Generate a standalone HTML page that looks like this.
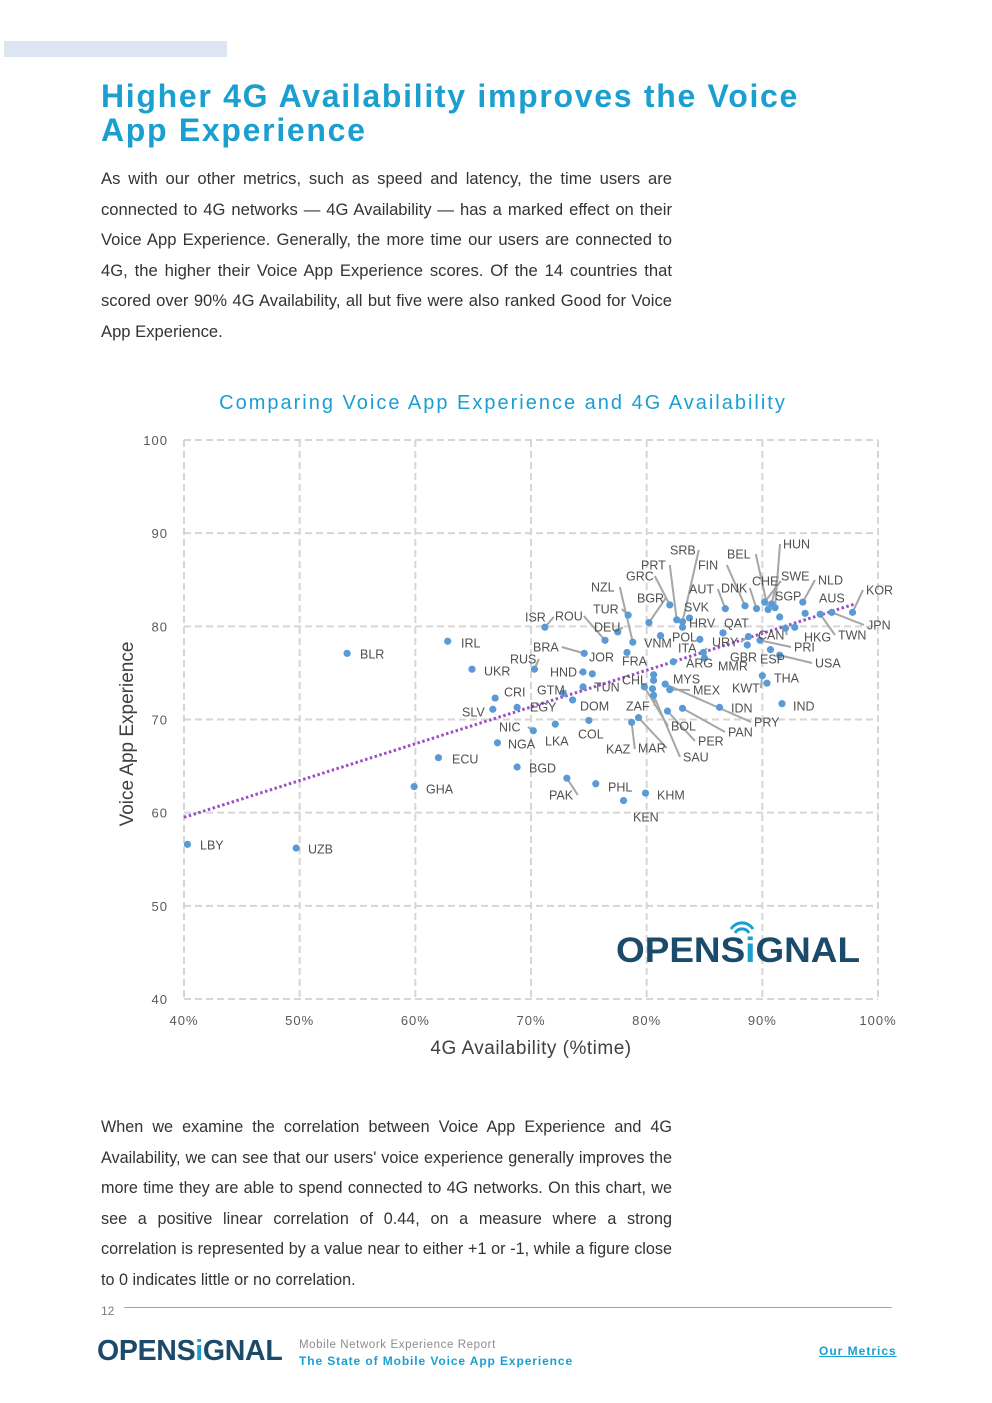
<!DOCTYPE html>
<html><head><meta charset="utf-8">
<style>
html,body{margin:0;padding:0;background:#fff;}
body{width:992px;height:1403px;position:relative;overflow:hidden;font-family:"Liberation Sans",sans-serif;}
.abs{position:absolute;}
.para{position:absolute;left:101px;width:571px;font-size:16.6px;line-height:30.5px;color:#333;text-align:justify;}
</style></head>
<body>
<div class="abs" style="left:4px;top:41px;width:223px;height:16px;background:#dce6f2;"></div>
<div class="abs" style="left:101px;top:79px;width:720px;font-size:32px;line-height:34px;font-weight:bold;color:#1a9fd0;letter-spacing:1.7px;">Higher 4G Availability improves the Voice App Experience</div>
<div class="para" style="top:164px;">As with our other metrics, such as speed and latency, the time users are connected to 4G networks — 4G Availability — has a marked effect on their Voice App Experience. Generally, the more time our users are connected to 4G, the higher their Voice App Experience scores. Of the 14 countries that scored over 90% 4G Availability, all but five were also ranked Good for Voice App Experience.</div>

<svg id="chart" class="abs" style="left:0;top:0" width="992" height="1100" xmlns="http://www.w3.org/2000/svg" font-family="Liberation Sans, sans-serif">
<text x="503" y="409" text-anchor="middle" font-size="20" fill="#1a9fd0" letter-spacing="2">Comparing Voice App Experience and 4G Availability</text>
<g id="grid"></g>
<g id="ticks"></g>
<text transform="translate(133,734) rotate(-90)" text-anchor="middle" font-size="19" fill="#404040">Voice App Experience</text>
<text x="531" y="1054" text-anchor="middle" font-size="19" fill="#404040" letter-spacing="0.5">4G Availability (%time)</text>
<g id="trend"></g>
<g id="leaders"></g>
<g id="points"></g>
<g id="labels"></g>
<g>
<text x="616" y="962" font-size="35" font-weight="bold" fill="#1b4a6b" textLength="244" lengthAdjust="spacingAndGlyphs">OPENS<tspan fill="#1a9fd0">i</tspan>GNAL</text>
<path d="M735 933 a8 8 0 0 1 14 0 M731 929 a13 13 0 0 1 22 0" stroke="#1a9fd0" stroke-width="3" fill="none"/>
</g>
</svg>

<div class="para" style="top:1112px;font-size:16.2px;">When we examine the correlation between Voice App Experience and 4G Availability, we can see that our users' voice experience generally improves the more time they are able to spend connected to 4G networks. On this chart, we see a positive linear correlation of 0.44, on a measure where a strong correlation is represented by a value near to either +1 or -1, while a figure close to 0 indicates little or no correlation.</div>

<div class="abs" style="left:101px;top:1304px;font-size:12px;color:#7f7f7f;">12</div>
<div class="abs" style="left:124px;top:1307px;width:768px;height:1px;background:#8fa9c0;"></div>
<div class="abs" style="left:97px;top:1335px;font-size:28.5px;font-weight:bold;color:#1b4a6b;letter-spacing:-0.3px;">OPENS<span style="color:#1a9fd0">i</span>GNAL</div>
<div class="abs" style="left:299px;top:1339px;font-size:11.5px;color:#8c8c8c;letter-spacing:0.6px;">Mobile Network Experience Report</div>
<div class="abs" style="left:299px;top:1354px;font-size:12px;font-weight:bold;color:#1a9fd0;letter-spacing:0.9px;">The State of Mobile Voice App Experience</div>
<div class="abs" style="left:819px;top:1344px;font-size:12px;font-weight:bold;color:#1a9fd0;text-decoration:underline;letter-spacing:1px;">Our Metrics</div>

<script>
const countries=["LBY","UZB","BLR","IRL","UKR","GHA","ECU","SLV","CRI","EGY","RUS","ISR","NIC","NGA","BGD","LKA","GTM","HND","TUN","DOM","JOR","BRA","COL","PAK","PHL","KEN","KHM","KAZ","MAR","ZAF","CHL","FRA","MYS","MEX","SAU","BOL","PER","PAN","PRY","IDN","IND","THA","KWT","ARG","MMR","ITA","VNM","POL","HRV","QAT","URY","GBR","ESP","CAN","PRI","USA","HKG","TWN","DEU","NZL","TUR","ROU","BGR","GRC","PRT","SRB","SVK","AUT","FIN","DNK","CHE","BEL","HUN","SWE","SGP","NLD","AUS","KOR","JPN"];
const availability=[40.3,49.7,54.1,62.8,64.9,59.9,62.0,66.7,66.9,68.8,70.3,71.2,70.2,67.1,68.8,72.1,72.8,74.5,74.5,73.6,75.3,74.6,75.0,73.1,75.6,78.0,79.9,78.7,79.3,80.5,80.6,78.3,80.6,82.0,80.6,79.8,81.8,83.1,81.6,86.3,91.7,90.4,90.0,82.3,85.0,84.9,81.2,84.6,83.1,86.6,88.8,88.7,90.7,92.0,89.8,91.5,92.8,95.0,77.5,78.8,78.4,76.4,80.2,82.0,82.6,83.1,83.7,86.8,88.5,89.5,90.2,90.5,91.1,90.8,91.5,93.5,93.7,97.8,96.0];
const voiceScore=[56.6,56.2,77.1,78.4,75.4,62.8,65.9,71.1,72.3,71.3,75.4,79.9,68.8,67.5,64.9,69.5,72.8,75.1,73.5,72.1,74.9,77.1,69.9,63.7,63.1,61.3,62.1,69.7,70.2,73.3,74.2,77.2,74.8,73.2,72.6,73.5,70.9,71.2,73.8,71.3,71.7,73.9,74.7,76.2,76.6,77.2,79.0,78.6,79.9,79.3,78.9,78.0,77.5,79.8,78.5,76.9,79.9,81.3,79.4,78.3,81.2,78.5,80.4,82.3,80.7,80.5,80.9,81.9,82.2,81.9,82.6,81.8,82.0,82.4,81.0,82.6,81.4,81.5,81.5];
const xTicks=[40,50,60,70,80,90,100];
const yTicks=[40,50,60,70,80,90,100];
const trendX=[40,98];
const trendY=[59.5,82.4];
// label anchor positions (left x, middle y) in page pixels
const labelPos=[[200,845],[308,849],[360,654],[461,643],[484,671],[426,789],[452,759],[462,712],[504,692],[530,707],[510,659],[525,617],[499,727],[508,744],[529,768],[545,741],[537,690],[550,672],[594,687],[580,706],[589,657],[533,647],[578,734],[549,795],[608,787],[633,817],[657,795],[606,749],[638,748],[626,706],[622,680],[622,661],[673,679],[693,690],[683,757],[671,726],[698,741],[728,732],[754,722],[731,708],[793,706],[774,678],[732,688],[686,663],[718,666],[678,648],[644,643],[672,637],[689,623],[724,623],[712,642],[730,657],[760,659],[758,635],[794,647],[815,663],[804,637],[838,635],[594,627],[591,587],[593,609],[555,616],[637,598],[626,576],[641,565],[670,550],[684,607],[689,589],[698,565],[721,588],[752,581],[727,554],[783,544],[781,576],[775,596],[818,580],[819,598],[866,590],[867,625]];

const X0=184,X1=878,Y0=999,Y1=440;
const sx=v=>X0+(v-40)/60*(X1-X0);
const sy=v=>Y0-(v-40)/60*(Y0-Y1);
const NS="http://www.w3.org/2000/svg";
function mk(tag,parent){const e=document.createElementNS(NS,tag);document.getElementById(parent).appendChild(e);return e;}

xTicks.forEach(t=>{
  const l=mk('line','grid');
  
  
  l.setAttribute('x1',sx(t));l.setAttribute('x2',sx(t));l.setAttribute('y1',Y1);l.setAttribute('y2',Y0);
  l.setAttribute('stroke','#d6d6d6');l.setAttribute('stroke-width','2');l.setAttribute('stroke-dasharray','7,4');
  const tx=mk('text','ticks');
  
  
  tx.setAttribute('x',sx(t));tx.setAttribute('y',1025);tx.setAttribute('text-anchor','middle');
  tx.setAttribute('font-size','13');tx.setAttribute('fill','#595959');tx.setAttribute('letter-spacing','1');
  tx.textContent=t+'%';
});
yTicks.forEach(t=>{
  const l=mk('line','grid');
  
  
  l.setAttribute('x1',X0);l.setAttribute('x2',X1);l.setAttribute('y1',sy(t));l.setAttribute('y2',sy(t));
  l.setAttribute('stroke','#d6d6d6');l.setAttribute('stroke-width','2');l.setAttribute('stroke-dasharray','7,4');
  const tx=mk('text','ticks');
  
  
  tx.setAttribute('x',168);tx.setAttribute('y',sy(t)+5);tx.setAttribute('text-anchor','end');
  tx.setAttribute('font-size','13');tx.setAttribute('fill','#595959');tx.setAttribute('letter-spacing','1');
  tx.textContent=t;
});
const tl=mk('line','trend');


tl.setAttribute('x1',sx(trendX[0]));tl.setAttribute('y1',sy(trendY[0]));
tl.setAttribute('x2',sx(trendX[1]));tl.setAttribute('y2',sy(trendY[1]));
tl.setAttribute('stroke','#9b4fc4');tl.setAttribute('stroke-width','3');tl.setAttribute('stroke-dasharray','2.5,2.5');

countries.forEach((c,i)=>{
  const px=sx(availability[i]),py=sy(voiceScore[i]);
  const [lx,ly]=labelPos[i];
  const w=c.length*8.6;
  const d=Math.hypot(lx-px,ly-py);
  if(d>22){
    const ax = (lx>px)? lx-3 : lx+w+3;
    const ln=mk('line','leaders');
    
    
    ln.setAttribute('x1',px);ln.setAttribute('y1',py);ln.setAttribute('x2',ax);ln.setAttribute('y2',ly);
    ln.setAttribute('stroke','#a6a6a6');ln.setAttribute('stroke-width','2');
  }
  const ci=mk('circle','points');
  
  
  ci.setAttribute('cx',px);ci.setAttribute('cy',py);ci.setAttribute('r','3.6');ci.setAttribute('fill','#5b9bd5');
  const t=mk('text','labels');
  
  
  t.setAttribute('x',lx);t.setAttribute('y',ly+4.5);t.setAttribute('font-size','12.5');t.setAttribute('fill','#505050');
  t.textContent=c;
});
</script>
</body></html>
